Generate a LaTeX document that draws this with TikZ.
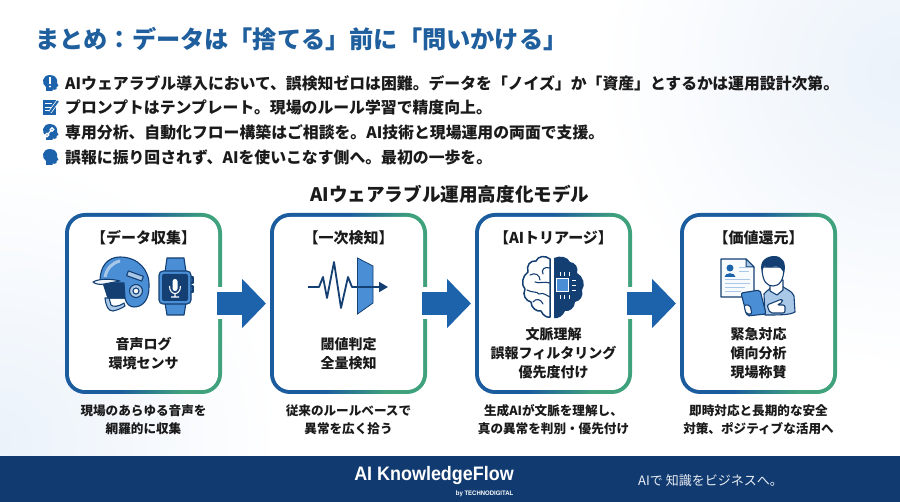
\documentclass[tikz,border=0pt]{standalone}
\usepackage{fontspec}
\setmainfont{Noto Sans CJK JP}
\newfontfamily\logofont[FakeStretch=0.92]{Liberation Sans}
\usetikzlibrary{arrows.meta, positioning}
\definecolor{titleblue}{HTML}{1F5F9E}
\definecolor{edgeblue}{HTML}{1B5C9E}
\definecolor{edgegreen}{HTML}{3FA27C}
\definecolor{flowblue}{HTML}{1C63AC}
\definecolor{navy}{HTML}{143F73}
\definecolor{midblue}{HTML}{4A8FD6}
\definecolor{paleblue}{HTML}{A9C8E8}
\definecolor{bandblue}{HTML}{103A70}
\definecolor{inkc}{HTML}{1A1A1A}
\definecolor{tint}{HTML}{EBF2FA}
\pgfdeclarehorizontalshading{boxedge}{100bp}{color(0bp)=(edgeblue); color(46bp)=(edgeblue); color(66bp)=(edgegreen); color(100bp)=(edgegreen)}
\tikzset{
  box/.style = {rectangle, rounded corners=20pt, minimum width=157pt, minimum height=181pt, inner sep=0pt, outer sep=0pt, shading=boxedge, shading angle=-8},
  inbox/.style = {rectangle, rounded corners=16pt, minimum width=149pt, minimum height=173pt, inner sep=0pt, outer sep=0pt, fill=white},
  head/.style = {text=inkc, font=\fontsize{15}{19}\selectfont\bfseries},
  body/.style = {text=inkc, align=center, font=\fontsize{14}{19}\selectfont\bfseries},
  note/.style = {text=inkc, align=center, font=\fontsize{12.6}{17.5}\selectfont\bfseries},
  bullet/.style = {anchor=west, inner sep=0pt, text=inkc, font=\fontsize{15.85}{19}\selectfont\bfseries},
  flow/.style = {draw=flowblue, line width=23pt, -{Triangle[length=24pt,width=48pt]}, shorten <=-5pt, shorten >=4pt,
    preaction={draw=white, line width=32pt, -, shorten >=44pt}},
  icon/.style = {draw=navy, line width=1.1pt, line join=round},
  headsil/.pic = {\fill[flowblue] (-4,8) -- (-4,4) .. controls (-9,1) and (-8,-8) .. (0,-8) .. controls (6,-8) and (8,-3) .. (7,0) -- (8.5,3) -- (6.5,4) -- (6.5,6) .. controls (6,7) and (4,7) .. (2.5,6.5) -- (2.5,8) -- cycle;},
}

\begin{document}
\begin{tikzpicture}[x=1pt, y=-1pt]

  \useasboundingbox (0,0) rectangle (900,502);
  \begin{scope}
    \clip (0,0) rectangle (900,502);
    \fill[white] (0,0) rectangle (900,502);
    \shade[inner color=tint, outer color=white] (0,440) circle (280);
    \shade[inner color=tint, outer color=white] (900,70) circle (300);
  \end{scope}
  \fill[bandblue] (0,456) rectangle (900,502);

  \node (title) [anchor=west, inner sep=0pt, text=titleblue, font=\fontsize{24.2}{28}\selectfont\bfseries] at (35,39) {まとめ：データは「捨てる」前に「問いかける」};

  \node (line1) [bullet] at (65,83) {AIウェアラブル導入において、誤検知ゼロは困難。データを「ノイズ」か「資産」とするかは運用設計次第。};
  \node (line2) [bullet] at (65,107.5) {プロンプトはテンプレート。現場のルール学習で精度向上。};
  \node (line3) [bullet] at (65,132) {専用分析、自動化フロー構築はご相談を。AI技術と現場運用の両面で支援。};
  \node (line4) [bullet] at (65,157) {誤報に振り回されず、AIを使いこなす側へ。最初の一歩を。};

  \pic at (50,83) {headsil};
  \fill[white] (49,77) rectangle (51,84);
  \fill[white] (50,86.5) circle (1.2);
  \fill[flowblue] (42.5,100) rectangle (56,115);
  \draw[white, line width=1pt] (45,104) -- (52,104) (45,107.5) -- (51,107.5) (45,111) -- (49,111);
  \draw[white, line width=3.5pt] (50,112) -- (58,101);
  \draw[flowblue, line width=2pt] (50,112) -- (58,101);
  \pic at (50,132) {headsil};
  \draw[white, line width=1.2pt] (47,135) circle (1.8) (52,129.5) circle (1.8) (48.5,133.5) -- (50.5,131);
  \pic at (50,157) {headsil};

  \node (model) [text=inkc, font=\fontsize{18.6}{22}\selectfont\bfseries] at (450,194) {AIウェアラブル運用高度化モデル};

  \node (box1) [box] at (143.5,303.5) {};
  \node (box2) [box, right=48pt of box1] {};
  \node (box3) [box, right=48pt of box2] {};
  \node (box4) [box, right=48pt of box3] {};
  \node (in1) [inbox] at (box1) {};
  \node (in2) [inbox] at (box2) {};
  \node (in3) [inbox] at (box3) {};
  \node (in4) [inbox] at (box4) {};

  \draw [flow] (box1.east) -- (box2.west);
  \draw [flow] (box2.east) -- (box3.west);
  \draw [flow] (box3.east) -- (box4.west);

  \node (head1) [head] at ([yshift=-25pt]box1.north) {【データ収集】};
  \node (head2) [head] at ([yshift=-25pt]box2.north) {【一次検知】};
  \node (head3) [head] at ([yshift=-25pt]box3.north) {【AIトリアージ】};
  \node (head4) [head] at ([yshift=-25pt]box4.north) {【価値還元】};

  \node (body1) [body] at ([yshift=-140.5pt]box1.north) {音声ログ\\環境センサ};
  \node (body2) [body] at ([yshift=-140.5pt]box2.north) {閾値判定\\全量検知};
  \node (body3) [body] at ([yshift=-140.5pt]box3.north) {文脈理解\\誤報フィルタリング\\優先度付け};
  \node (body4) [body] at ([yshift=-140.5pt]box4.north) {緊急対応\\傾向分析\\現場称賛};

  \node (note1) [note] at ([yshift=-25.5pt]box1.south) {現場のあらゆる音声を\\網羅的に収集};
  \node (note2) [note] at ([yshift=-25.5pt]box2.south) {従来のルールベースで\\異常を広く拾う};
  \node (note3) [note] at ([yshift=-25.5pt]box3.south) {生成AIが文脈を理解し、\\真の異常を判別・優先付け};
  \node (note4) [note] at ([yshift=-25.5pt]box4.south) {即時対応と長期的な安全\\対策、ポジティブな活用へ};

  % helmet and watch
  \draw[icon, fill=midblue] (100,281) .. controls (100,266) and (108,257) .. (120,257) .. controls (138,257) and (150,270) .. (149,287) .. controls (149,298) and (144,307) .. (134,307) .. controls (130,307) and (126,304) .. (125,298) -- (108,298) -- (103,283) -- cycle;
  \draw[paleblue, line width=3pt] (105,277) .. controls (107,268) and (112,263) .. (120,261);
  \draw[icon, fill=navy] (104,283) -- (124,283) -- (125,298) -- (108,298) -- cycle;
  \draw[icon, fill=white!85!paleblue] (93,282) .. controls (100,278) and (112,279) .. (120,281) -- (104,284) .. controls (100,285) and (95,284) .. (93,282) -- cycle;
  \draw[icon, fill=paleblue] (105,298) .. controls (106,306) and (108,311) .. (113,311) .. controls (118,310) and (122,308) .. (125,306) -- (124,303) .. controls (118,307) and (113,307) .. (111,305) -- (109,298) -- cycle;
  \draw[icon, fill=paleblue] (136,291) circle (6.5);
  \draw[icon, fill=white] (136,291) circle (3);
  \draw[icon, fill=paleblue, rotate around={-20:(135,276)}] (127,273.5) rectangle (143,278.5);
  \draw[icon, fill=midblue] (165,272) -- (167,258) -- (184,258) -- (186,272) -- cycle;
  \draw[icon, fill=midblue] (165,303) -- (167,315) -- (184,315) -- (186,303) -- cycle;
  \draw[icon, fill=midblue] (190,277) rectangle (193,283);
  \draw[icon, fill=midblue] (190,286) rectangle (193,292);
  \draw[icon, fill=midblue, rounded corners=4pt] (159,271) rectangle (191,304);
  \fill[navy, rounded corners=2pt] (162,274) rectangle (188,301);
  \fill[white, rounded corners=2.5pt] (172.5,279) rectangle (177.5,291);
  \draw[white, line width=1.1pt] (169.5,286) .. controls (169.5,296) and (180.5,296) .. (180.5,286) (175,293) -- (175,297) (171,297) -- (179,297);

  % signal and filter
  \draw[draw=navy, line width=.8pt, fill=midblue] (357.5,258) -- (373,266) -- (373,303) -- (357.5,314) -- cycle;
  \draw[navy, line width=1.8pt, line join=round, -{Triangle[length=9pt,width=10pt]}] (308,287) -- (319,287) -- (323,277) -- (327,298) -- (334,262) -- (341,308) -- (348,277) -- (352,287) -- (388,287);

  % brain with chip
  \draw[navy, line width=1.5pt, fill=white, line join=round] (550,259) .. controls (545,255) and (538,256) .. (536,261) .. controls (530,260) and (526,266) .. (528,272) .. controls (522,276) and (521,285) .. (525,289) .. controls (522,295) and (526,301) .. (531,302) .. controls (531,308) and (537,312) .. (541,311) .. controls (543,316) and (548,318) .. (550,317) -- cycle;
  \draw[navy, line width=1.1pt, line cap=round] (550,268) .. controls (544,266) and (541,270) .. (543,274) (530,275) .. controls (535,272) and (540,275) .. (540,280) (550,283) .. controls (544,281) and (539,284) .. (535,282) (527,290) .. controls (532,293) and (537,291) .. (539,294) .. controls (544,292) and (547,296) .. (550,297) (533,302) .. controls (536,298) and (541,299) .. (543,304);
  \fill[navy] (554,258) .. controls (560,255) and (568,257) .. (570,262) .. controls (575,262) and (579,268) .. (577,273) .. controls (583,276) and (586,285) .. (582,290) .. controls (584,296) and (580,301) .. (575,302) .. controls (575,308) and (569,312) .. (565,311) .. controls (563,316) and (558,319) .. (554,318) -- cycle;
  \draw[white, line width=1pt] (560,272) -- (560,276) (564.5,272) -- (564.5,276) (569,272) -- (569,276) (560,295) -- (560,299) (564.5,295) -- (564.5,299) (569,295) -- (569,299) (572,280.5) -- (576,280.5) (572,285.5) -- (576,285.5) (572,290.5) -- (576,290.5);
  \draw[white, line width=1pt, fill=midblue] (556.5,279) rectangle (568.5,292);

  % report and person
  \draw[icon, fill=white!92!paleblue] (721,259) -- (746,259) -- (754,267) -- (754,297) -- (721,297) -- cycle;
  \draw[icon, fill=paleblue, line width=1pt] (746,259) -- (746,267) -- (754,267) -- cycle;
  \fill[flowblue] (730,268) circle (3.5);
  \fill[flowblue] (724.5,277) .. controls (725,272) and (735,272) .. (735.5,277) -- cycle;
  \draw[paleblue, line width=1pt] (739,268) -- (747,268) (739,272) -- (749,272) (725,280) -- (750,280) (725,284) -- (750,284) (725,288) -- (745,288) (725,292) -- (741,292);
  \draw[icon, fill=paleblue] (765,315) -- (764,294) .. controls (767,290) and (771,289) .. (773,285) -- (781,285) .. controls (784,289) and (792,290) .. (794,296) -- (795,312) .. controls (790,315) and (780,315) .. (765,315) -- cycle;
  \draw[icon, fill=white] (770,280) -- (770,291) -- (777,295) -- (783,290) -- (783,280) -- cycle;
  \draw[icon, fill=white] (762,267) .. controls (762,283) and (768,286) .. (773,286) .. controls (779,286) and (784,281) .. (784,267) -- cycle;
  \fill[navy] (762,272) .. controls (758,260) and (768,256) .. (774,256) .. controls (782,256) and (787,262) .. (784,273) .. controls (781,268) and (779,266) .. (776,266) .. controls (771,268) and (765,267) .. (764,266) -- cycle;
  \draw[icon, fill=white, rounded corners=2pt] (767,305) -- (782,299) -- (783,302) -- (777,305) -- (785,305) -- (785,313) -- (770,313) -- cycle;
  \draw[icon, fill=midblue, rounded corners=2pt] (741,293) -- (760,290) -- (766,314) -- (747,316) -- cycle;
  \draw[icon, fill=white, rounded corners=2pt] (744,305) -- (750,305) -- (752,314) -- (746,314) -- cycle;

  \node (brand) [text=white, font=\logofont\fontsize{19.5}{22}\selectfont\bfseries] at (434,475.5) {AI KnowledgeFlow};
  \node (by) [anchor=east, inner sep=0pt, text=white, font=\logofont\fontsize{6.5}{8}\selectfont\bfseries] at (513.5,493.5) {by TECHNODIGITAL};
  \node (slogan) [anchor=west, inner sep=0pt, text=white!92!bandblue, font=\fontsize{13}{18}\selectfont] at (638,481) {AIで 知識をビジネスへ。};

\end{tikzpicture}
\end{document}
